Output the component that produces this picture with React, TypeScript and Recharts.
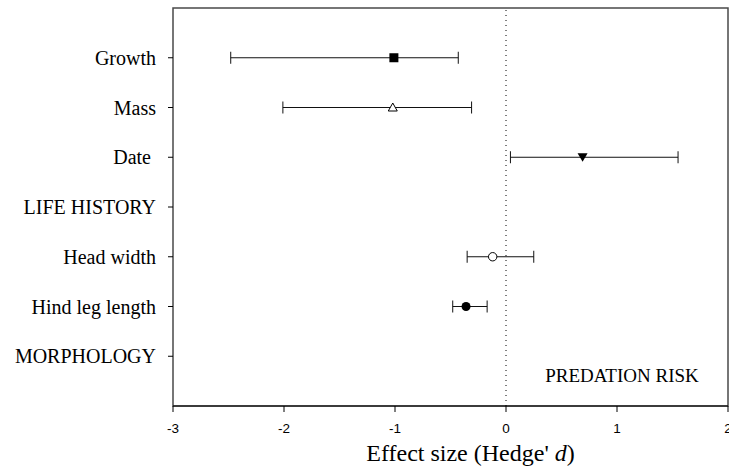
import React from 'react';
import {
  ScatterChart,
  Scatter,
  XAxis,
  YAxis,
  ErrorBar,
  ReferenceLine,
  ReferenceArea,
  Label,
} from 'recharts';

// ---- data (top row first) ----
const rowLabels = ['Growth', 'Mass', 'Date ', 'LIFE HISTORY', 'Head width', 'Hind leg length', 'MORPHOLOGY'];
const effectMeans: (number | null)[] = [-1.01, -1.02, 0.69, null, -0.12, -0.36, null];
const ciLower: (number | null)[] = [-2.48, -2.01, 0.04, null, -0.35, -0.48, null];
const ciUpper: (number | null)[] = [-0.43, -0.31, 1.55, null, 0.25, -0.17, null];
const markerKinds: (string | null)[] = ['square', 'triangleUpOpen', 'triangleDown', null, 'circleOpen', 'circle', null];
const xTicks = [-3, -2, -1, 0, 1, 2];
const xTitle = "Effect size (Hedge' ";
const xTitleItalic = 'd';
const cornerNote = 'PREDATION RISK';

const SERIF = '"Liberation Serif", "Times New Roman", Times, serif';
const SANS = '"Liberation Sans", Arial, Helvetica, sans-serif';

const nRows = rowLabels.length;
const yTicks = rowLabels.map((_, i) => nRows - i);
const labelByPos: Record<number, string> = {};
rowLabels.forEach((l, i) => {
  labelByPos[nRows - i] = l;
});

const seriesList = rowLabels
  .map((label, i) => {
    const m = effectMeans[i];
    const lo = ciLower[i];
    const hi = ciUpper[i];
    if (m === null || lo === null || hi === null) return null;
    return {
      key: label.trim(),
      kind: markerKinds[i] as string,
      data: [{ x: m, y: nRows - i, err: [m - lo, hi - m] }],
    };
  })
  .filter(Boolean) as { key: string; kind: string; data: { x: number; y: number; err: number[] }[] }[];

const makeShape = (kind: string) => (props: any) => {
  const { cx, cy } = props;
  if (cx == null || cy == null) return <g />;
  const s = 4.5;
  switch (kind) {
    case 'square':
      return <rect x={cx - s} y={cy - s} width={2 * s} height={2 * s} fill="#000" />;
    case 'triangleUpOpen':
      return (
        <polygon
          points={`${cx},${cy - 4.5} ${cx - 4.5},${cy + 3.5} ${cx + 4.5},${cy + 3.5}`}
          fill="#fff"
          stroke="#000"
          strokeWidth={1}
        />
      );
    case 'triangleDown':
      return (
        <polygon
          points={`${cx - 5},${cy - 4} ${cx + 5},${cy - 4} ${cx},${cy + 4.5}`}
          fill="#000"
        />
      );
    case 'circleOpen':
      return <circle cx={cx} cy={cy} r={4.2} fill="#fff" stroke="#000" strokeWidth={1} />;
    default:
      return <circle cx={cx} cy={cy} r={4.5} fill="#000" />;
  }
};

const YTick = (props: any) => {
  const { x, y, payload } = props;
  return (
    <text
      x={x}
      y={y}
      dy="0.355em"
      textAnchor="end"
      fontFamily={SERIF}
      fontSize={20}
      fill="#000"
      style={{ whiteSpace: 'pre' }}
    >
      {labelByPos[payload.value] ?? ''}
    </text>
  );
};

const XTitle = (props: any) => {
  const vb = props.viewBox || {};
  const cx = vb.x + vb.width / 2 + 20;
  const y = vb.y + 55;
  return (
    <text x={cx} y={y} textAnchor="middle" fontFamily={SERIF} fontSize={24} fill="#000">
      {xTitle}
      <tspan fontStyle="italic">{xTitleItalic}</tspan>)
    </text>
  );
};

const CornerNote = (props: any) => {
  const vb = props.viewBox || {};
  return (
    <text
      x={vb.x + vb.width - 106}
      y={vb.y + vb.height - 24}
      textAnchor="middle"
      fontFamily={SERIF}
      fontSize={19}
      fill="#000"
    >
      {cornerNote}
    </text>
  );
};

export default function App() {
  return (
    <div style={{ position: 'absolute', left: 0, top: 0, width: 729, height: 475, background: '#fff' }}>
      <ScatterChart width={729} height={475} margin={{ top: 8, right: 1, bottom: 0, left: 0 }}>
        <ReferenceArea
          x1={-3}
          x2={2}
          y1={0}
          y2={8}
          fill="none"
          fillOpacity={0}
          stroke="#4a4a4a"
          strokeWidth={1.5}
          ifOverflow="visible"
        >
          <Label content={<CornerNote />} />
        </ReferenceArea>
        <XAxis
          type="number"
          dataKey="x"
          domain={[-3, 2]}
          ticks={xTicks}
          allowDataOverflow
          height={69}
          tickSize={6}
          tickMargin={11}
          axisLine={{ stroke: '#000', strokeWidth: 1 }}
          tickLine={{ stroke: '#000' }}
          tick={{ fontFamily: SANS, fontSize: 13.5, fill: '#000' }}
          interval={0}
        >
          <Label content={<XTitle />} />
        </XAxis>
        <YAxis
          type="number"
          dataKey="y"
          domain={[0, 8]}
          ticks={yTicks}
          allowDataOverflow
          width={173}
          tickSize={5}
          tickMargin={12}
          axisLine={false}
          tickLine={{ stroke: '#000' }}
          tick={<YTick />}
          interval={0}
        />
        <ReferenceLine x={0} stroke="#000" strokeWidth={1} strokeDasharray="1 4" ifOverflow="visible" />
        {seriesList.map((s) => (
          <Scatter
            key={s.key}
            name={s.key}
            data={s.data}
            shape={makeShape(s.kind)}
            isAnimationActive={false}
          >
            <ErrorBar dataKey="err" direction="x" width={6} stroke="#111" strokeWidth={1} />
          </Scatter>
        ))}
      </ScatterChart>
    </div>
  );
}
